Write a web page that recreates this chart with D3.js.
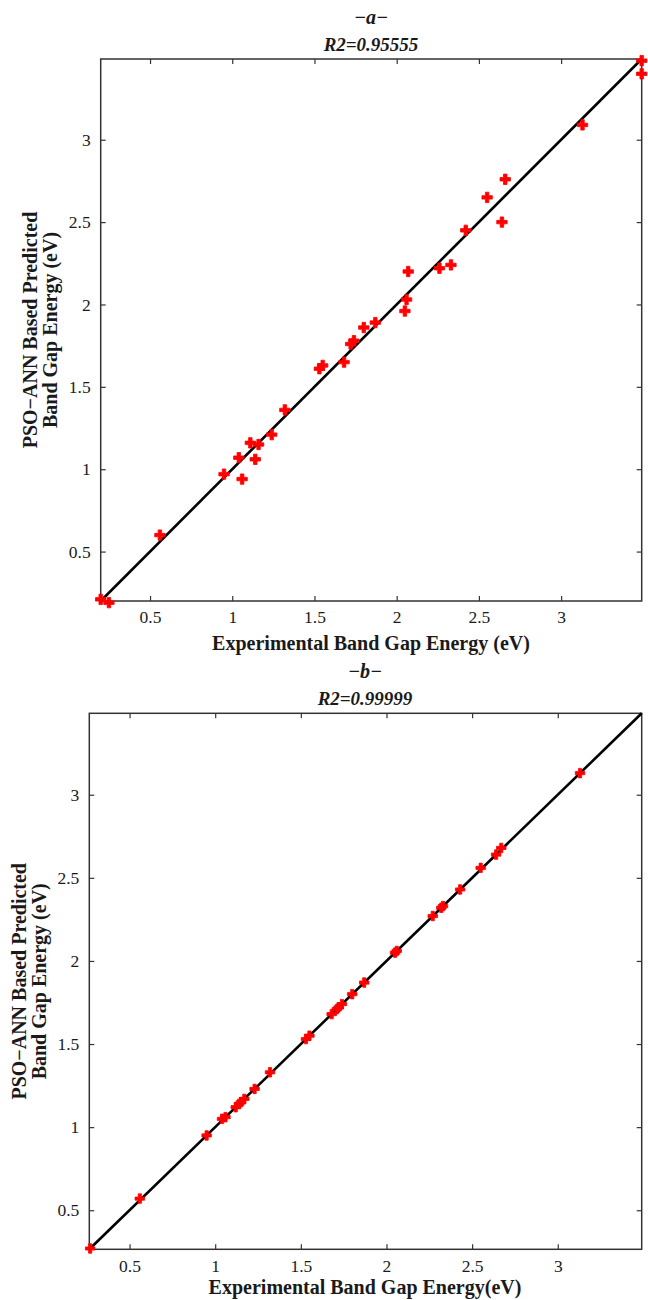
<!DOCTYPE html>
<html lang="en">
<head>
<meta charset="utf-8">
<script src="https://d3js.org/d3.v7.min.js"></script>
<style>
  body { margin: 0; background: white; }
  svg text { font-family: "Liberation Serif", "DejaVu Serif", serif; fill: #1a1a1a; }
  .tick line { stroke: #333; stroke-width: 1.2; }
  .tick text { font-size: 17.5px; }
  .frame { fill: none; stroke: #333; stroke-width: 1.5; }
  .title { font-weight: bold; font-style: italic; text-anchor: middle; }
  .axlabel { font-weight: bold; font-size: 20px; text-anchor: middle; }
  .fit { stroke: black; stroke-width: 2.6; }
  .pt { fill: #ff0000; stroke: #ff0000; stroke-width: 0.8; }
</style>
</head>
<body>
<svg id="fig" width="648" height="1300"></svg>
<script>
// tick values shared by both panels
var ticks = [0.5, 1, 1.5, 2, 2.5, 3];

// panel a : experimental vs predicted
var limitsA = [0.2, 3.49];
var expA  = [0.20, 0.25, 0.56, 0.95, 1.04, 1.06, 1.11, 1.14, 1.16, 1.24, 1.32, 1.53, 1.55, 1.68, 1.72,
             1.74, 1.80, 1.87, 2.05, 2.06, 2.07, 2.26, 2.33, 2.42, 2.55, 2.64, 2.66, 3.13, 3.49, 3.49];
var predA = [0.21, 0.19, 0.60, 0.97, 1.07, 0.94, 1.16, 1.06, 1.15, 1.21, 1.36, 1.61, 1.63, 1.65, 1.76,
             1.78, 1.86, 1.89, 1.96, 2.03, 2.20, 2.22, 2.24, 2.45, 2.65, 2.50, 2.76, 3.09, 3.48, 3.40];

// panel b
var limitsB = [0.265, 3.49];
var expB  = [0.27, 0.56, 0.95, 1.04, 1.06, 1.12, 1.14, 1.15, 1.17, 1.23, 1.32, 1.53, 1.55, 1.68, 1.71,
             1.72, 1.74, 1.80, 1.87, 2.05, 2.06, 2.27, 2.32, 2.33, 2.43, 2.55, 2.64, 2.67, 3.13];
var predB = [0.27, 0.57, 0.95, 1.05, 1.06, 1.12, 1.14, 1.15, 1.17, 1.23, 1.33, 1.53, 1.55, 1.68, 1.71,
             1.72, 1.74, 1.80, 1.87, 2.05, 2.06, 2.27, 2.32, 2.33, 2.43, 2.56, 2.64, 2.68, 3.13];

var svg = d3.select("#fig");
var fmt = d3.format("~g");

function panel(p) {
  var x = d3.scaleLinear().domain(p.limits).range([p.left, p.right]);
  var y = d3.scaleLinear().domain(p.limits).range([p.bottom, p.top]);
  var g = svg.append("g");

  // titles
  g.append("text").attr("class", "title").attr("x", p.cx).attr("y", p.top - 35)
    .style("font-size", "20px").text(p.letter);
  g.append("text").attr("class", "title").attr("x", p.cx).attr("y", p.top - 8)
    .style("font-size", "19px").text(p.r2);

  // axes, ticks pointing inward (matlab style)
  g.append("g").attr("transform", "translate(0," + p.bottom + ")")
    .call(d3.axisBottom(x).tickValues(ticks).tickFormat(fmt).tickSizeInner(-5).tickSizeOuter(0).tickPadding(10))
    .call(a => a.select(".domain").remove());
  g.append("g").attr("transform", "translate(" + p.left + ",0)")
    .call(d3.axisLeft(y).tickValues(ticks).tickFormat(fmt).tickSizeInner(-5).tickSizeOuter(0).tickPadding(10))
    .call(a => a.select(".domain").remove());
  g.append("g").attr("transform", "translate(0," + p.top + ")")
    .call(d3.axisTop(x).tickValues(ticks).tickFormat("").tickSizeInner(-5).tickSizeOuter(0))
    .call(a => a.select(".domain").remove());
  g.append("g").attr("transform", "translate(" + p.right + ",0)")
    .call(d3.axisRight(y).tickValues(ticks).tickFormat("").tickSizeInner(-5).tickSizeOuter(0))
    .call(a => a.select(".domain").remove());
  g.selectAll(".tick text").attr("fill", "#1a1a1a").style("font-family", "Liberation Serif");

  g.append("rect").attr("class", "frame")
    .attr("x", p.left).attr("y", p.top)
    .attr("width", p.right - p.left).attr("height", p.bottom - p.top);

  // y = x fit line
  g.append("line").attr("class", "fit")
    .attr("x1", x(p.limits[0])).attr("y1", y(p.limits[0]))
    .attr("x2", x(p.limits[1])).attr("y2", y(p.limits[1]));

  var sym = d3.symbol().type(d3.symbolCross).size(p.msize);
  g.selectAll("path.pt").data(p.xs).join("path")
    .attr("class", "pt")
    .attr("d", sym)
    .attr("transform", (d, i) => "translate(" + x(d) + "," + y(p.ys[i]) + ")");

  // axis labels
  g.append("text").attr("class", "axlabel").attr("x", p.cx).attr("y", p.bottom + p.xly).text(p.xlabel);
  var ym = (p.top + p.bottom) / 2;
  g.append("text").attr("class", "axlabel")
    .attr("transform", "translate(" + p.ylx + "," + ym + ") rotate(-90)")
    .text("PSO\u2212ANN Based Predicted");
  g.append("text").attr("class", "axlabel")
    .attr("transform", "translate(" + (p.ylx + 20) + "," + ym + ") rotate(-90)")
    .text("Band Gap Energy (eV)");
}

panel({
  limits: limitsA, xs: expA, ys: predA,
  left: 100.7, right: 641.7, top: 59, bottom: 601, cx: 371, ylx: 37, xly: 49, msize: 60,
  letter: "\u2212a\u2212", r2: "R2=0.95555",
  xlabel: "Experimental Band Gap Energy (eV)"
});

panel({
  limits: limitsB, xs: expB, ys: predB,
  left: 89.3, right: 641.7, top: 713.3, bottom: 1249.3, cx: 365, ylx: 26, xly: 45, msize: 50,
  letter: "\u2212b\u2212", r2: "R2=0.99999",
  xlabel: "Experimental Band Gap Energy(eV)"
});
</script>
</body>
</html>
